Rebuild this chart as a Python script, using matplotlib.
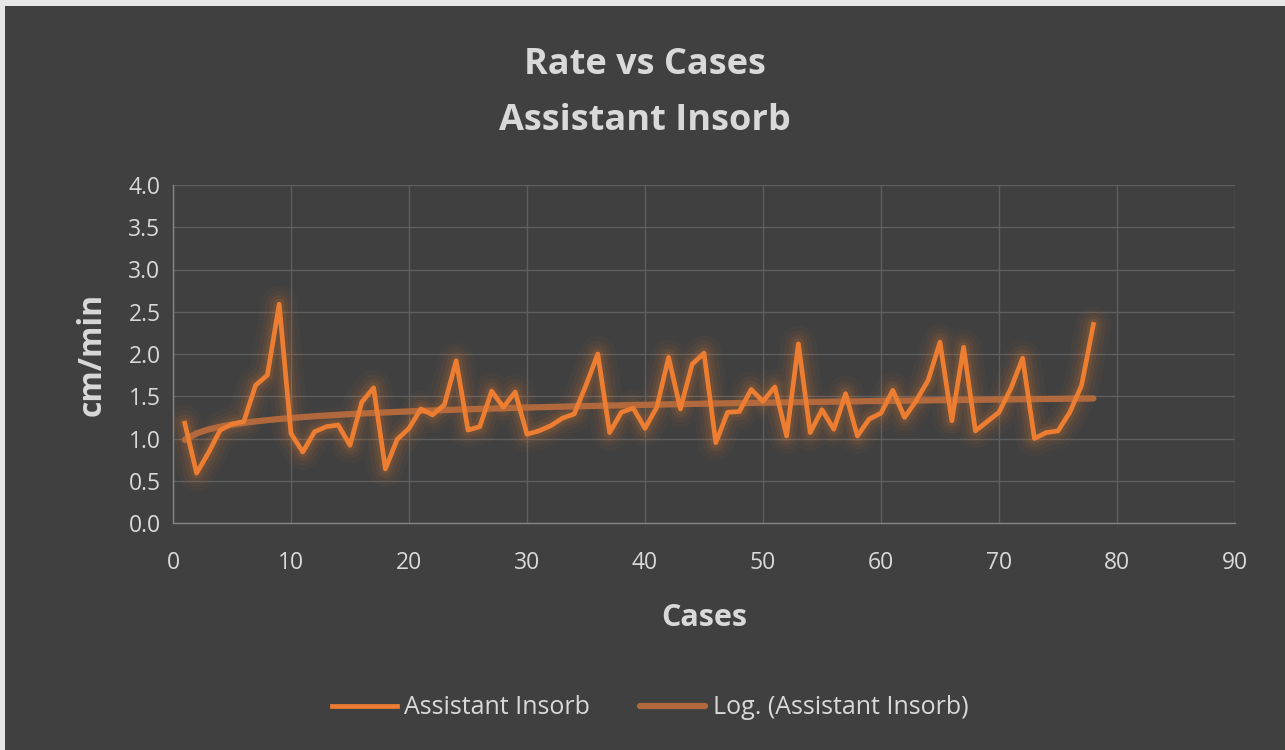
import numpy as np
import matplotlib
matplotlib.use("Agg")
import matplotlib.pyplot as plt
from matplotlib.patches import Rectangle

cases = list(range(1, 79))
rate = [1.18, 0.59, 0.83, 1.10, 1.17, 1.20, 1.63, 1.75, 2.59, 1.06,
        0.84, 1.08, 1.14, 1.16, 0.92, 1.43, 1.60, 0.64, 0.99, 1.12,
        1.35, 1.28, 1.40, 1.92, 1.10, 1.14, 1.56, 1.37, 1.55, 1.05,
        1.09, 1.15, 1.24, 1.29, 1.63, 2.00, 1.07, 1.31, 1.36, 1.12,
        1.37, 1.96, 1.35, 1.88, 2.01, 0.95, 1.31, 1.32, 1.58, 1.44,
        1.61, 1.03, 2.12, 1.07, 1.34, 1.11, 1.53, 1.03, 1.23, 1.30,
        1.57, 1.25, 1.45, 1.69, 2.14, 1.21, 2.08, 1.09, 1.20, 1.31,
        1.59, 1.95, 1.00, 1.07, 1.09, 1.31, 1.63, 2.35]

title1 = "Rate vs Cases"
title2 = "Assistant Insorb"
series_name = "Assistant Insorb"
trend_name = "Log. (Assistant Insorb)"

bg = "#404040"
txt = "#d9d9d9"
orange = "#ed7d31"
trend_col = "#bd6d3c"

plt.rcParams['font.family'] = ['Open Sans', 'DejaVu Sans']

fig = plt.figure(figsize=(12.85, 7.5), dpi=100, facecolor=bg)
# light border strips at top and left like the screenshot
fig.patches.append(Rectangle((0, 744 / 750), 1, 6 / 750, transform=fig.transFigure,
                             facecolor="#e6e6e6", edgecolor="none"))
fig.patches.append(Rectangle((0, 0), 5 / 1285, 1, transform=fig.transFigure,
                             facecolor="#e6e6e6", edgecolor="none"))
ax = fig.add_axes([173 / 1285, 1 - 523 / 750, (1235 - 173) / 1285, (523 - 185) / 750])
ax.set_facecolor(bg)

# log trendline fitted to the data, like Excel does
x = np.array(cases, dtype=float)
y = np.array(rate)
b, a = np.polyfit(np.log(x), y, 1)
trend = a + b * np.log(x)

# soft glow
for lw, al in [(26, 0.04), (19, 0.06), (13, 0.08), (8, 0.12)]:
    ax.plot(x, y, color=orange, lw=lw, alpha=al, solid_capstyle="round",
            solid_joinstyle="round", zorder=2)
ax.plot(x, trend, color=trend_col, lw=4.5, alpha=0.9, solid_capstyle="round",
        zorder=3, label=trend_name)
ax.plot(x, y, color=orange, lw=3.4, solid_joinstyle="round", zorder=4, label=series_name)

ax.set_xlim(0, 90)
ax.set_ylim(0, 4)
ax.set_xticks(range(0, 91, 10))
ax.set_yticks(np.arange(0, 4.01, 0.5))
ax.set_yticklabels([f"{v:.1f}" for v in np.arange(0, 4.01, 0.5)])
ax.grid(True, color="#5e5e5e", lw=1)
ax.set_axisbelow(True)
for s in ["top", "right"]:
    ax.spines[s].set_visible(False)
for s in ["left", "bottom"]:
    ax.spines[s].set_color("#858585")
    ax.spines[s].set_linewidth(1)
ax.tick_params(length=0, labelsize=16.5, labelcolor=txt)
ax.tick_params(axis="y", pad=9)
ax.tick_params(axis="x", pad=20)

ax.set_xlabel("Cases", fontsize=22, fontweight="bold", color=txt, labelpad=20)
ax.set_ylabel("cm/min", fontsize=23, fontweight="bold", color=txt, labelpad=14)
fig.text(0.502, 1 - 65 / 750, title1, ha="center", va="center", fontsize=26,
         fontweight="bold", color=txt)
fig.text(0.502, 1 - 121 / 750, title2, ha="center", va="center", fontsize=26,
         fontweight="bold", color=txt)

h, l = ax.get_legend_handles_labels()
leg = fig.legend(h[::-1], l[::-1], loc="center", bbox_to_anchor=(0.506, 1 - 708 / 750), ncol=2,
                 frameon=False, fontsize=18, labelcolor=txt, handlelength=2.6,
                 columnspacing=2.0, handletextpad=0.3)

fig.savefig("out.png", dpi=100, facecolor=fig.get_facecolor())
